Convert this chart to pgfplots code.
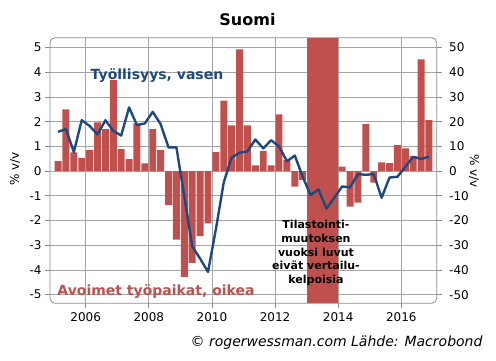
\documentclass[border=0pt]{standalone}
\usepackage{pgfplots}
\pgfplotsset{compat=1.18}
\usepackage{fontspec}
\setmainfont{DejaVu Sans}
\definecolor{barred}{HTML}{C0504D}
\definecolor{lineblue}{HTML}{1F497D}
\definecolor{gridgray}{HTML}{A6A6A6}
\definecolor{framegray}{HTML}{8C8C8C}
\begin{document}
\begin{tikzpicture}
\path[use as bounding box] (0,0) rectangle (496pt,361pt);
% axis 1: vacancies (right axis), bars, grid
\begin{axis}[
  at={(50pt,57.7pt)}, anchor=south west,
  width=386.7pt, height=265.6pt, scale only axis,
  xmin=2004.87, xmax=2017.12,
  ymin=-53.5, ymax=54,
  axis y line*=right, axis x line*=bottom,
  axis line style={draw=none},
  xtick={2006,2008,2010,2012,2014,2016},
  xticklabels={2006,2008,2010,2012,2014,2016},
  ytick={-50,-40,-30,-20,-10,0,10,20,30,40,50},
  grid=major,
  major grid style={gridgray, line width=0.8pt},
  tick align=outside, major tick length=5pt,
  tick style={framegray, line width=0.8pt},
  /pgf/number format/assume math mode=true,
  /pgf/number format/1000 sep={},
  ticklabel style={font=\fontsize{12}{14}\selectfont, black},
  yticklabel style={xshift=4pt},
  xticklabel style={yshift=-1pt},
  clip=false,
]
\addplot[ybar, bar width=0.22, bar shift=0pt, fill=barred, draw=none] coordinates {
(2005.125,4) (2005.375,25) (2005.625,7.6) (2005.875,5.4)
(2006.125,8.5) (2006.375,19.7) (2006.625,17) (2006.875,36.8)
(2007.125,8.9) (2007.375,4.9) (2007.625,19.3) (2007.875,3.1)
(2008.125,17) (2008.375,8.5) (2008.625,-13.8) (2008.875,-27.7)
(2009.125,-42.8) (2009.375,-37.1) (2009.625,-26.3) (2009.875,-21.2)
(2010.125,7.7) (2010.375,28.5) (2010.625,18.5) (2010.875,49.3)
(2011.125,18.5) (2011.375,2.3) (2011.625,8.2) (2011.875,2.3)
(2012.125,23) (2012.375,4.5) (2012.625,-6.3) (2012.875,-3.6)
(2014.125,1.8) (2014.375,-14.4) (2014.625,-12.8) (2014.875,19)
(2015.125,-4.7) (2015.375,3.5) (2015.625,3.2) (2015.875,10.5)
(2016.125,9.2) (2016.375,6.1) (2016.625,45.2) (2016.875,20.6)
};
\addplot[fill=barred, draw=none] coordinates {(2013,-53.5) (2014,-53.5) (2014,54) (2013,54)} -- cycle;
\end{axis}
% axis 2: employment (left axis), line
\begin{axis}[
  at={(50pt,57.7pt)}, anchor=south west,
  width=386.7pt, height=265.6pt, scale only axis,
  xmin=2004.87, xmax=2017.12,
  ymin=-5.35, ymax=5.4,
  axis y line*=left, axis x line=none,
  axis line style={draw=none},
  ytick={-5,-4,-3,-2,-1,0,1,2,3,4,5},
  tick align=outside, major tick length=5pt,
  tick style={framegray, line width=0.8pt},
  /pgf/number format/assume math mode=true,
  ticklabel style={font=\fontsize{12}{14}\selectfont, black},
  clip=false,
]
\addplot[lineblue, line width=2.4pt, line join=round] coordinates {
(2005.125,1.59) (2005.375,1.7) (2005.625,0.77) (2005.875,2.06)
(2006.125,1.83) (2006.375,1.48) (2006.625,2.06) (2006.875,1.63)
(2007.125,1.44) (2007.375,2.58) (2007.625,1.86) (2007.875,1.93)
(2008.125,2.4) (2008.375,1.9) (2008.625,0.96) (2008.875,0.96)
(2009.125,-1.03) (2009.375,-3.04) (2009.625,-3.54) (2009.875,-4.08)
(2010.125,-2.35) (2010.375,-0.45) (2010.625,0.55) (2010.875,0.74)
(2011.125,0.8) (2011.375,1.28) (2011.625,0.92) (2011.875,1.25)
(2012.125,1.0) (2012.375,0.4) (2012.625,0.63) (2012.875,-0.23)
(2013.125,-0.97) (2013.375,-0.74) (2013.625,-1.52) (2013.875,-1.08)
(2014.125,-0.62) (2014.375,-0.66) (2014.625,-0.12) (2014.875,-0.15)
(2015.125,-0.12) (2015.375,-1.08) (2015.625,-0.26) (2015.875,-0.23)
(2016.125,0.17) (2016.375,0.58) (2016.625,0.49) (2016.875,0.58)
};
\draw[framegray, line width=0.8pt, rounded corners=5pt] (rel axis cs:0,0) rectangle (rel axis cs:1,1);
\end{axis}
% texts
\node[font=\fontsize{16}{18}\selectfont\bfseries] at (247.5pt,341.7pt) {Suomi};
\node[font=\fontsize{14}{16}\selectfont\bfseries, text=lineblue] at (157pt,285pt) {Työllisyys, vasen};
\node[font=\fontsize{14}{16}\selectfont\bfseries, text=barred] at (156pt,69.3pt) {Avoimet työpaikat, oikea};
\node[font=\fontsize{11}{13.6}\selectfont\bfseries, align=center] at (316pt,108pt) {Tilastointi-\\muutoksen\\vuoksi luvut\\eivät vertailu-\\kelpoisia};
\node[rotate=90, font=\fontsize{12}{14}\selectfont] at (15pt,192pt) {\% v/v};
\node[rotate=-90, font=\fontsize{12}{14}\selectfont] at (474pt,190pt) {\% v/v};
\node[anchor=east, font=\fontsize{14}{16}\selectfont\itshape] at (486pt,18.3pt) {© rogerwessman.com Lähde: Macrobond};
\end{tikzpicture}
\end{document}
